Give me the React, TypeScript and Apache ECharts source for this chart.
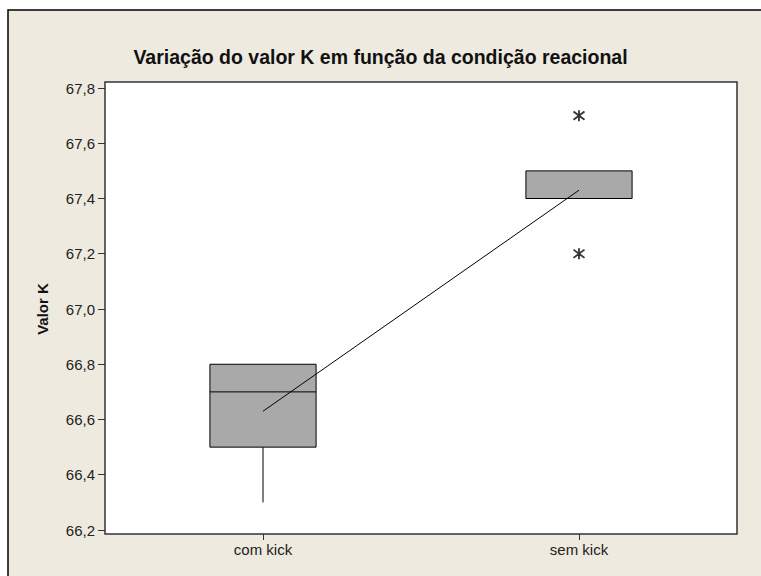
import React, { useEffect, useRef } from "react";
import * as echarts from "echarts";

const categories = ["com kick", "sem kick"];
const boxMin = [66.3, 67.4];
const boxQ1 = [66.5, 67.4];
const boxMedian = [66.7, 67.4];
const boxQ3 = [66.8, 67.5];
const boxMax = [66.8, 67.5];
const means = [66.63, 67.43];
const outlierCategory = [1, 1];
const outlierValues = [67.7, 67.2];
const yMin = 66.2;
const yMax = 67.8;
const yStep = 0.2;

const titleText = "Variação do valor K em função da condição reacional";
const yName = "Valor K";

const FONT = "'Liberation Sans', Arial, sans-serif";

export default function App() {
  const ref = useRef<HTMLDivElement>(null);
  useEffect(() => {
    if (!ref.current) return;
    const chart = echarts.init(ref.current, undefined, { renderer: "svg" });
    const boxData = categories.map((_, i) => [i, boxMin[i], boxQ1[i], boxMedian[i], boxQ3[i], boxMax[i]]);
    const outlierData = outlierValues.map((v, i) => [outlierCategory[i], v]);
    const option: any = {
      animation: false,
      backgroundColor: "#ffffff",
      textStyle: { fontFamily: FONT },
      title: {
        text: titleText,
        left: "center",
        top: 42,
        textStyle: { fontFamily: FONT, fontSize: 19.5, fontWeight: "bold", color: "#111" },
      },
      graphic: [
        {
          type: "rect",
          z: -100,
          silent: true,
          shape: { x: 8, y: 10, width: 1200, height: 1200 },
          style: { fill: "#EEEAE0", stroke: "#000", lineWidth: 1.5 },
        },
        {
          type: "rect",
          z: -50,
          silent: true,
          shape: { x: 105, y: 82, width: 632, height: 452 },
          style: { fill: "#ffffff", stroke: "#333", lineWidth: 1.5 },
        },
      ],
      grid: { left: 105, right: 24, top: 88, bottom: 46 },
      xAxis: {
        type: "category",
        data: categories,
        boundaryGap: true,
        offset: 4,
        axisLine: { show: false },
        axisTick: { show: true, alignWithLabel: true, length: 6, lineStyle: { color: "#333" } },
        axisLabel: { fontSize: 15, color: "#222", margin: 8, fontFamily: FONT },
        splitLine: { show: false },
      },
      yAxis: {
        type: "value",
        min: yMin,
        max: yMax,
        interval: yStep,
        name: yName,
        nameLocation: "middle",
        nameGap: 55,
        nameTextStyle: { fontSize: 15, fontWeight: "bold", color: "#111", fontFamily: FONT },
        axisLine: { show: false },
        axisTick: { show: true, length: 7, lineStyle: { color: "#333" } },
        axisLabel: {
          fontSize: 15,
          color: "#222",
          margin: 10,
          fontFamily: FONT,
          formatter: (v: number) => v.toFixed(1).replace(".", ","),
        },
        splitLine: { show: false },
      },
      series: [
        {
          type: "custom",
          z: 2,
          data: boxData,
          encode: { x: 0, y: [1, 2, 3, 4, 5] },
          renderItem: (params: any, api: any) => {
            const i = api.value(0);
            const pMin = api.coord([i, api.value(1)]);
            const pQ1 = api.coord([i, api.value(2)]);
            const pMed = api.coord([i, api.value(3)]);
            const pQ3 = api.coord([i, api.value(4)]);
            const pMax = api.coord([i, api.value(5)]);
            const half = api.size([1, 0])[0] * 0.168;
            const x = pMin[0];
            const lineStyle = { stroke: "#000", lineWidth: 1 };
            return {
              type: "group",
              children: [
                { type: "line", shape: { x1: x, y1: pQ1[1], x2: x, y2: pMin[1] }, style: lineStyle },
                { type: "line", shape: { x1: x, y1: pQ3[1], x2: x, y2: pMax[1] }, style: lineStyle },
                {
                  type: "rect",
                  shape: { x: x - half, y: pQ3[1], width: half * 2, height: pQ1[1] - pQ3[1] },
                  style: { fill: "#A9A9A9", stroke: "#000", lineWidth: 1 },
                },
                { type: "line", shape: { x1: x - half, y1: pMed[1], x2: x + half, y2: pMed[1] }, style: lineStyle },
              ],
            };
          },
        },
        {
          type: "line",
          z: 5,
          data: means,
          symbol: "none",
          lineStyle: { color: "#000", width: 1 },
          silent: true,
        },
        {
          type: "scatter",
          z: 6,
          data: outlierData,
          symbol: "path://M0,-6L0,6M-4.5,-4.5L4.5,4.5M-4.5,4.5L4.5,-4.5",
          symbolSize: 11,
          itemStyle: { color: "none", borderColor: "#000", borderWidth: 1.8 },
          silent: true,
        },
      ],
    };
    chart.setOption(option);
    return () => chart.dispose();
  }, []);
  return <div ref={ref} style={{ position: "absolute", left: 0, top: 0, width: 761, height: 576 }} />;
}
